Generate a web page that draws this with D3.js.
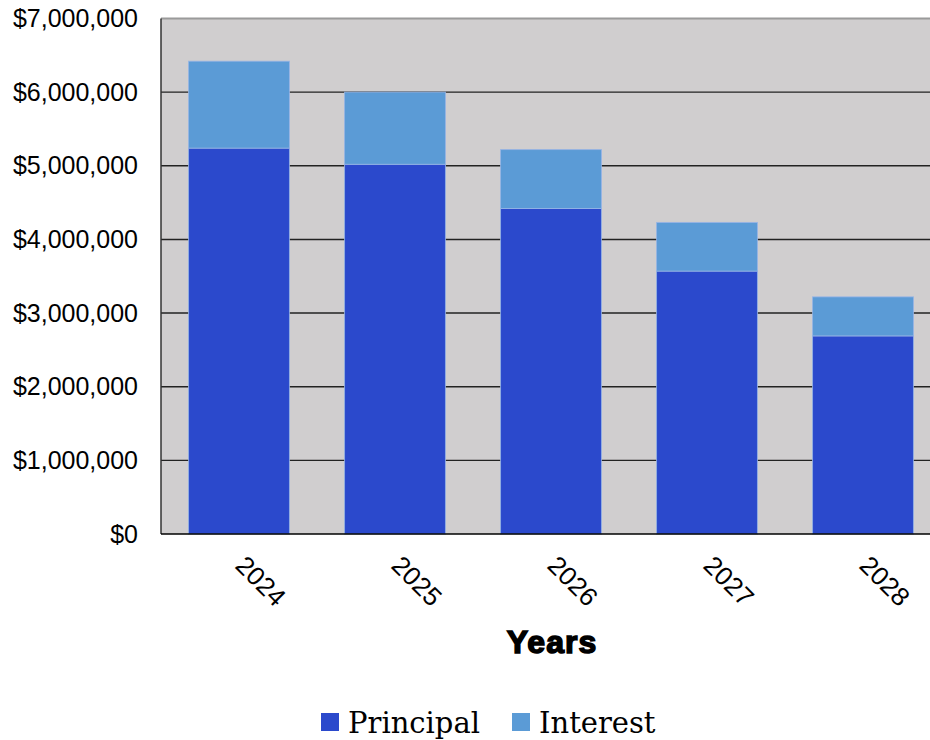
<!DOCTYPE html>
<html>
<head>
<meta charset="utf-8">
<script src="https://cdn.jsdelivr.net/npm/d3@7"></script>
<style>
  html, body { margin: 0; padding: 0; background: #ffffff; }
  svg { display: block; }
</style>
</head>
<body>
<svg id="chart" width="930" height="740"></svg>
<script>
// Loan repayment by year: principal and interest, stacked
const years = ["2024", "2025", "2026", "2027", "2028"];
const principal = [5240000, 5020000, 4420000, 3570000, 2690000];
const interest = [1180000, 980000, 800000, 660000, 530000];
const yTicks = [0, 1000000, 2000000, 3000000, 4000000, 5000000, 6000000, 7000000];
const seriesNames = ["Principal", "Interest"];
const seriesColors = ["#2b49cc", "#5b9bd6"];

const svg = d3.select("#chart");
const plot = { left: 161, top: 18.5, right: 941, bottom: 534 };

const x = d3.scaleBand()
  .domain(years)
  .range([plot.left, plot.right])
  .paddingInner(0.353)
  .paddingOuter(0.1765);

const y = d3.scaleLinear()
  .domain([0, 7000000])
  .range([plot.bottom, plot.top]);

// plot background
svg.append("rect")
  .attr("x", plot.left)
  .attr("y", plot.top)
  .attr("width", plot.right - plot.left)
  .attr("height", plot.bottom - plot.top)
  .attr("fill", "#d0cecf");

// horizontal grid lines
svg.append("g")
  .selectAll("line")
  .data(yTicks.filter(t => t > 0 && t < 7000000))
  .join("line")
  .attr("x1", plot.left)
  .attr("x2", plot.right)
  .attr("y1", d => y(d))
  .attr("y2", d => y(d))
  .attr("stroke", "#222")
  .attr("stroke-width", 1.4);

// top frame line
svg.append("line")
  .attr("x1", plot.left).attr("x2", plot.right)
  .attr("y1", y(7000000)).attr("y2", y(7000000))
  .attr("stroke", "#9a9a9a").attr("stroke-width", 2);

// stacked bars
const rows = years.map((yr, i) => ({ year: yr, Principal: principal[i], Interest: interest[i] }));
const stacked = d3.stack().keys(seriesNames)(rows);

svg.append("g")
  .selectAll("g")
  .data(stacked)
  .join("g")
  .attr("fill", (d, i) => seriesColors[i])
  .selectAll("rect")
  .data(d => d)
  .join("rect")
  .attr("x", d => x(d.data.year))
  .attr("width", x.bandwidth())
  .attr("y", d => y(d[1]))
  .attr("height", d => y(d[0]) - y(d[1]))
  .attr("stroke", "rgba(150,180,230,0.8)")
  .attr("stroke-width", 1);

// axis lines
svg.append("line")
  .attr("x1", plot.left).attr("x2", plot.left)
  .attr("y1", plot.top).attr("y2", plot.bottom)
  .attr("stroke", "#333").attr("stroke-width", 1.5);
svg.append("line")
  .attr("x1", plot.left).attr("x2", plot.right)
  .attr("y1", plot.bottom).attr("y2", plot.bottom)
  .attr("stroke", "#000").attr("stroke-width", 1.5);

// y axis labels
const fmt = d3.format("$,.0f");
const yAxis = d3.axisLeft(y)
  .tickValues(yTicks)
  .tickFormat(fmt)
  .tickSize(0)
  .tickPadding(23);
const yg = svg.append("g")
  .attr("transform", `translate(${plot.left},0)`)
  .call(yAxis);
yg.select(".domain").remove();
yg.selectAll("text")
  .attr("font-family", "'Liberation Sans', Arial, sans-serif")
  .attr("font-size", 25)
  .attr("fill", "#000");

// x axis labels, rotated
const xAxis = d3.axisBottom(x).tickSize(0).tickPadding(0);
const xg = svg.append("g")
  .attr("transform", `translate(0,${plot.bottom})`)
  .call(xAxis);
xg.select(".domain").remove();
xg.selectAll("text")
  .attr("font-family", "'Liberation Sans', Arial, sans-serif")
  .attr("font-size", 26)
  .attr("fill", "#000")
  .attr("text-anchor", "start")
  .attr("dy", null)
  .attr("y", null)
  .attr("transform", "translate(-5,33) rotate(45)");

// x axis title
svg.append("text")
  .attr("x", 552)
  .attr("y", 653)
  .attr("text-anchor", "middle")
  .attr("font-family", "'Liberation Sans', Arial, sans-serif")
  .attr("font-weight", "bold")
  .attr("font-size", 32)
  .attr("letter-spacing", 1)
  .attr("stroke", "#000")
  .attr("stroke-width", 1.5)
  .attr("fill", "#000")
  .text("Years");

// legend
const legend = svg.append("g");
const legendX = [321, 512];
seriesNames.forEach((name, i) => {
  legend.append("rect")
    .attr("x", legendX[i])
    .attr("y", 713)
    .attr("width", 18)
    .attr("height", 18)
    .attr("fill", seriesColors[i]);
  legend.append("text")
    .attr("x", legendX[i] + 27)
    .attr("y", 733)
    .attr("font-family", "'DejaVu Serif', serif")
    .attr("font-size", 29)
    .attr("fill", "#000")
    .text(name);
});
</script>
</body>
</html>
